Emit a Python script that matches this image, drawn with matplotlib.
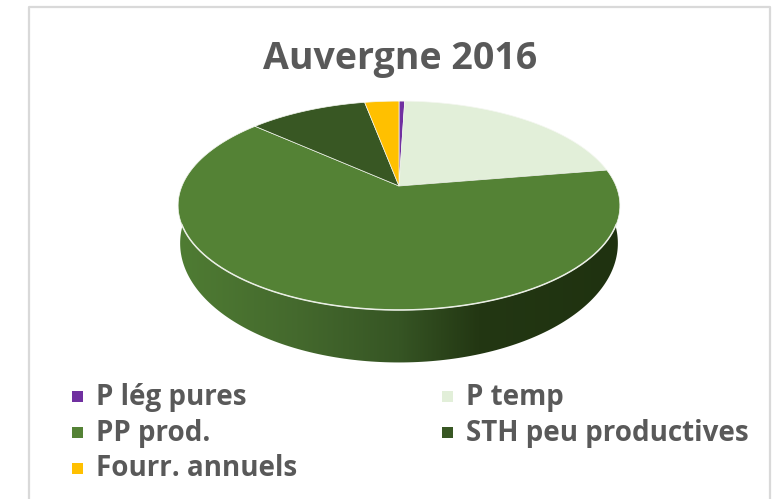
"""Auvergne 2016 - fake 3D pie of forage surfaces, drawn with a perspective ellipse."""

import matplotlib

matplotlib.use("Agg")
import matplotlib.pyplot as plt
import numpy as np
from matplotlib.colors import LinearSegmentedColormap
from matplotlib.patches import Polygon, Rectangle

TITLE = "Auvergne 2016"
LABELS = ["P lég pures", "P temp", "PP prod.", "STH peu productives", "Fourr. annuels"]
SHARES = [0.5, 21.9, 64.2, 10.4, 3.0]
COLORS = ["#7030a0", "#e2efd9", "#548235", "#385723", "#ffc000"]

W, H = 783, 499
CX, CY = 399, 186
TEXT = "#595959"


def project(theta, rx=217.0, ry=100.8, dy=0.0):
    """Circle angle (clockwise from top) to pixel position, far side squeezed."""
    u, v = np.sin(theta), np.cos(theta)
    k = 1 + 0.187 * v
    return np.column_stack([CX + rx * u / k, CY + dy - ry * v / k])


plt.rcParams["font.family"] = ["Open Sans", "DejaVu Sans"]
fig = plt.figure(figsize=(W / 100, H / 100), dpi=100)
ax = fig.add_axes([0, 0, 1, 1])
ax.set_xlim(0, W)
ax.set_ylim(H, 0)
ax.axis("off")

# frame, open at the bottom
ax.plot([29, 29, 770, 770], [H, 6.5, 6.5, H], color="#d9d9d9", lw=1.6)

# side wall: gradient clipped to the lower rim, the top face hides the rest
t = np.linspace(0, 2 * np.pi, 361)
low_rim = project(t, rx=215.0, ry=115.0, dy=35.0)
cmap = LinearSegmentedColormap.from_list(
    "wall",
    [(0.0, "#4f7c33"), (0.27, "#44692d"), (0.5, "#365524"), (0.68, "#233713"), (1.0, "#1f3210")],
)
im = ax.imshow(np.linspace(0, 1, 256)[None, :], cmap=cmap, extent=(178, 620, 365, 120),
               aspect="auto", zorder=1)
im.set_clip_path(Polygon(low_rim, closed=True, transform=ax.transData))
ax.set_xlim(0, W)
ax.set_ylim(H, 0)

# top face
edges = np.cumsum([0] + SHARES) / sum(SHARES) * 2 * np.pi
for start, end, color in zip(edges[:-1], edges[1:], COLORS):
    arc = project(np.linspace(start, end, 120))
    ax.add_patch(Polygon(np.vstack([[CX, CY], arc]), closed=True, facecolor=color,
                         edgecolor="#f4f7f0", lw=0.5, zorder=2))

# light rim along the front edge
front = (t > np.radians(110)) & (t < np.radians(250))
ax.plot(*project(t[front]).T, color="#e9eee4", lw=1.1, zorder=3)

# legend
rows = [397, 397, 433, 433, 469]
cols = [72, 442, 72, 442, 72]
for label, color, x, y in zip(LABELS, COLORS, cols, rows):
    ax.add_patch(Rectangle((x, y - 6.5), 11, 11, facecolor=color, edgecolor="none"))
    ax.text(x + 24, y, label, color=TEXT, fontsize=20, fontweight="bold", va="center", ha="left")

ax.text(400, 59, TITLE, color=TEXT, fontsize=27, fontweight="bold", va="center", ha="center")

fig.savefig("out.png", dpi=100)
plt.close(fig)
